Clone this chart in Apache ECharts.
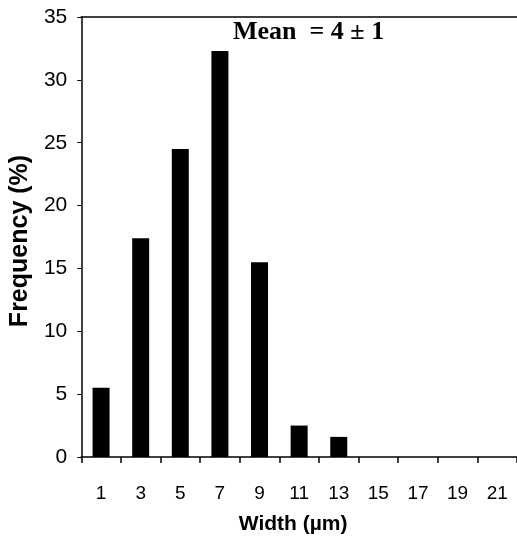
<!DOCTYPE html>
<html><head><meta charset="utf-8">
<script src="https://cdn.jsdelivr.net/npm/echarts@6/dist/echarts.min.js"></script>
<style>html,body{margin:0;padding:0;background:#fff}#c{width:517px;height:550px}</style>
</head><body><div id="c"></div>
<script>
var categories = ['1','3','5','7','9','11','13','15','17','19','21'];
var frequency = [5.5, 17.4, 24.5, 32.3, 15.5, 2.5, 1.6, 0, 0, 0, 0];
var yTicks = [0, 5, 10, 15, 20, 25, 30, 35];
var annotation = 'Mean  = 4 \u00b1 1';
var yTitle = 'Frequency (%)';
var xTitle = 'Width (\u00b5m)';

var chart = echarts.init(document.getElementById('c'), null, {renderer:'canvas'});
chart.setOption({
  animation:false,
  backgroundColor:'#fff',
  grid:{left:80, top:17, width:440, height:440},
  title:{text:annotation, left:233, top:19, padding:0, textStyle:{fontFamily:'Liberation Serif', fontWeight:'bold', fontSize:26, color:'#000'}},
  xAxis:[{
    type:'category', data:categories, position:'bottom',
    name:xTitle, nameLocation:'middle', nameGap:57,
    nameTextStyle:{fontFamily:'Liberation Sans', fontWeight:'bold', fontSize:21, color:'#000', padding:[0,12,0,0]},
    axisLine:{lineStyle:{color:'#000', width:1.5}},
    axisTick:{show:true, alignWithLabel:false, length:6, lineStyle:{color:'#000', width:1.5}},
    axisLabel:{fontFamily:'Liberation Sans', fontSize:19, color:'#000', margin:27, interval:0}
  },{
    type:'category', data:categories, position:'top',
    axisLine:{lineStyle:{color:'#000', width:1.5}},
    axisTick:{show:false}, axisLabel:{show:false}
  }],
  yAxis:{
    type:'value', min:yTicks[0], max:yTicks[yTicks.length-1], interval:5,
    name:yTitle, nameLocation:'middle', nameGap:44,
    nameTextStyle:{fontFamily:'Liberation Sans', fontWeight:'bold', fontSize:25, color:'#000', padding:[0,8,0,0]},
    axisLine:{show:true, lineStyle:{color:'#000', width:1.5}},
    axisTick:{show:true, length:4, lineStyle:{color:'#000', width:1}},
    axisLabel:{fontFamily:'Liberation Sans', fontSize:21, color:'#000', margin:14},
    splitLine:{show:false}
  },
  series:[{type:'bar', data:frequency, barWidth:17, itemStyle:{color:'#000'}}]
});
</script></body></html>
